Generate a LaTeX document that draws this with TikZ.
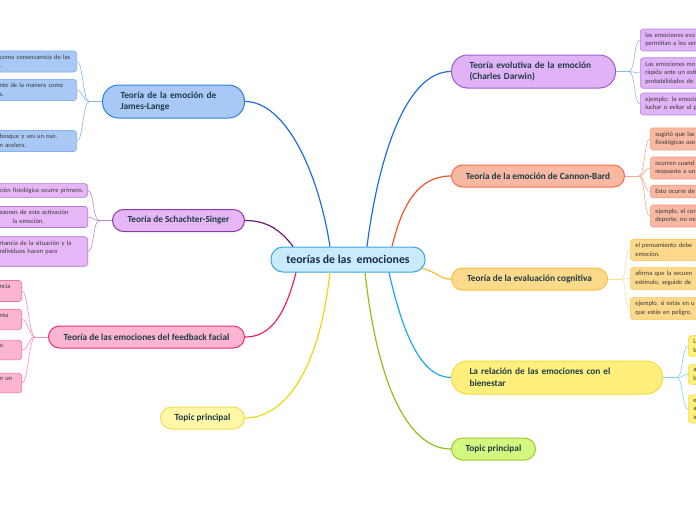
\documentclass[tikz,border=0pt]{standalone}
\usepackage{fontspec}
\setmainfont{Carlito}
\definecolor{ink}{HTML}{1F3B45}
\definecolor{hubink}{HTML}{1B2B4B}
\definecolor{leafink}{HTML}{3A3A3A}
\definecolor{hubfill}{HTML}{C9EBFC}\definecolor{hubline}{HTML}{3EA4E0}
\definecolor{jlfill}{HTML}{A8C9F6}\definecolor{jlline}{HTML}{2F7DE0}\definecolor{jltwig}{HTML}{86B3EE}
\definecolor{dwfill}{HTML}{E0B3F7}\definecolor{dwline}{HTML}{9D5CCF}\definecolor{dwleaf}{HTML}{B686E2}\definecolor{dwtwig}{HTML}{8AB8F0}
\definecolor{cbfill}{HTML}{F8B8A2}\definecolor{cbline}{HTML}{F26E43}\definecolor{cbleaf}{HTML}{F49A7C}\definecolor{cbtwig}{HTML}{F7A88E}
\definecolor{evfill}{HTML}{FDD98C}\definecolor{evline}{HTML}{FBC040}\definecolor{evleaf}{HTML}{FCCB60}\definecolor{evtwig}{HTML}{FDDFA0}
\definecolor{bwfill}{HTML}{FFF07D}\definecolor{bwline}{HTML}{F2DC3C}\definecolor{bwtwig}{HTML}{7FD0F5}
\definecolor{tgfill}{HTML}{D3F77F}\definecolor{tgline}{HTML}{9CCC2C}
\definecolor{tyfill}{HTML}{FFF6A8}\definecolor{tyline}{HTML}{F0DD55}
\definecolor{fffill}{HTML}{FBB4D2}\definecolor{ffline}{HTML}{EE2F78}\definecolor{ffleaf}{HTML}{F370A5}\definecolor{fftwig}{HTML}{F78CBB}
\definecolor{ssfill}{HTML}{E6B6F6}\definecolor{ssline}{HTML}{8C3AA8}\definecolor{ssleaf}{HTML}{B575CC}\definecolor{sstwig}{HTML}{B98AC8}
\definecolor{c-jl}{HTML}{1F6FDC}\definecolor{c-cb}{HTML}{F2542D}\definecolor{c-ev}{HTML}{FBB92E}
\definecolor{c-bw}{HTML}{1BA8EC}\definecolor{c-tg}{HTML}{8DC21F}\definecolor{c-ty}{HTML}{ECD80F}
\definecolor{c-ff}{HTML}{EE1F6B}\definecolor{c-ss}{HTML}{6A1B7A}
\begin{document}
\begin{tikzpicture}[x=1pt, y=-1pt,
  hub/.style={draw=hubline, fill=hubfill, line width=1pt, rounded corners=12pt, text=hubink,
    font=\bfseries\fontsize{11.8}{14}\selectfont, minimum width=154pt, minimum height=25pt},
  topic/.style={draw, line width=1pt, rounded corners=11pt, text=ink,
    font=\bfseries\fontsize{9.3}{11.5}\selectfont, minimum height=22pt, inner xsep=4pt},
  topictwo/.style={topic, rounded corners=16pt, minimum height=33pt, align=left, inner xsep=18pt},
  leafR/.style={draw, line width=0.6pt, rounded corners=3pt, anchor=west, align=left, text width=120pt,
    inner xsep=5pt, inner ysep=4pt, text=leafink, font=\fontsize{6.5}{8.5}\selectfont},
  leafL/.style={leafR, anchor=east, inner xsep=4pt},
  branch/.style={line width=1.2pt},
  twigR/.style={line width=0.6pt, to path={.. controls +(6,0) and +(-6,0) .. (\tikztotarget)}},
  twigL/.style={line width=0.6pt, to path={.. controls +(-6,0) and +(6,0) .. (\tikztotarget)}}]
\useasboundingbox (0,0) rectangle (696,520);
\clip (0,0) rectangle (696,520);
\fill[white] (0,0) rectangle (696,520);

% central topic
\node[hub] (hub) at (348,259.5) {teorías de las~ emociones};

% main topics, right
\node[topictwo, fill=dwfill, draw=dwline, anchor=west, text width=128pt] (dw) at (451,71.5)
  {Teoría evolutiva de la emoción\\(Charles Darwin)};
\node[topic, fill=cbfill, draw=cbline, anchor=west, minimum width=173pt] (cb) at (451,176) {Teoría de la emoción de Cannon-Bard};
\node[topic, fill=evfill, draw=evline, anchor=west, minimum width=156pt] (ev) at (451,279) {Teoría de la evaluación cognitiva};
\node[topictwo, fill=bwfill, draw=bwline, anchor=west, text width=175pt] (bw) at (451,377.5)
  {La relación de las emociones con el\\bienestar};
\node[topic, fill=tgfill, draw=tgline, anchor=west, minimum width=84pt] (tg) at (451,449) {Topic principal};

% main topics, left
\node[topictwo, fill=jlfill, draw=jlline, anchor=east, text width=106pt] (jl) at (245,101.5)
  {Teoría de la emoción de\\James-Lange};
\node[topic, fill=ssfill, draw=ssline, anchor=east, minimum width=132pt] (ss) at (245,220.5) {Teoría de Schachter-Singer};
\node[topic, fill=fffill, draw=ffline, anchor=east, minimum width=196pt] (ff) at (245,337) {Teoría de las emociones del feedback facial};
\node[topic, fill=tyfill, draw=tyline, anchor=east, minimum width=84pt] (ty) at (245,418) {Topic principal};

% branches
\draw[branch, c-jl] ([xshift=-18pt]hub.north) .. controls (318,170) and (285,101.5) .. (jl.east);
\draw[branch, c-jl] ([xshift=19pt]hub.north) .. controls (378,160) and (405,71.5) .. (dw.west);
\draw[branch, c-cb] ([xshift=44pt]hub.north) .. controls (402,205) and (418,176) .. (cb.west);
\draw[branch, c-ev] ([shift={(-3,-4)}]hub.south east) .. controls (438,272) and (438,279) .. (ev.west);
\draw[branch, c-bw] ([xshift=41pt]hub.south) .. controls (402,330) and (420,377.5) .. (bw.west);
\draw[branch, c-tg] ([xshift=17pt]hub.south) .. controls (378,390) and (410,449) .. (tg.west);
\draw[branch, c-ty] ([xshift=-18pt]hub.south) .. controls (318,380) and (280,418) .. (ty.east);
\draw[branch, c-ff] ([xshift=-52pt]hub.south) .. controls (284,320) and (268,337) .. (ff.east);
\draw[branch, c-ss] ([xshift=-55pt]hub.north) .. controls (278,226) and (262,220.5) .. (ss.east);

% subtopics, right
\foreach \n/\y/\t in {1/40/{las emociones evo\\permitían a los ser},
                      2/73/{Las emociones mo\\rápida ante un esti\\probabilidades de},
                      3/104/{ejemplo: la emoción\\luchar o evitar el p}}
  \node[leafR, fill=dwfill, draw=dwleaf] (dw\n) at (640,\y) {\t};
\foreach \n/\y/\t in {1/139/{sugirió que las s\\fisiológicas aso},
                      2/168/{ocurren cuand\\respuesta a un},
                      3/191.5/{Esto ocurre de},
                      4/216/{ejemplo, el cor\\deporte, no ne}}
  \node[leafR, fill=cbfill, draw=cbleaf] (cb\n) at (650,\y) {\t};
\foreach \n/\y/\t in {1/250/{el pensamiento debe\\emoción.},
                      2/278.5/{afirma que la secuen\\estímulo, seguido de},
                      3/308.5/{ejemplo, si estás en u\\que estás en peligro.}}
  \node[leafR, fill=evfill, draw=evleaf] (ev\n) at (630,\y) {\t};
\foreach \n/\y/\t in {1/346/{L\\b}, 2/374.5/{a\\b}, 3/409/{e\\a\\ir}}
  \node[leafR, fill=bwfill, draw=bwline] (bw\n) at (688,\y) {\t};

% subtopics, left
\foreach \n/\y/\t in {1/61.5/{como consecuencia de las\\.},
                      2/90/{nte de la manera como\\s.},
                      3/141/{bosque y ves un oso.\\n acelera.}}
  \node[leafL, fill=jlfill, draw=jltwig, text width=73pt] (jl\n) at (77,\y) {\t};
\foreach \n/\y/\t in {1/190.5/{ción fisiológica ocurre primero.},
                      2/217/{azones de esta activación\\\hspace*{13pt}la emoción.},
                      3/251.5/{rtancia de la situación y la\\ndividuos hacen para\\\mbox{}}}
  \node[leafL, fill=ssfill, draw=ssleaf, text width=84pt] (ss\n) at (88,\y) {\t};
\foreach \n/\y/\t in {1/291/{ncia\\\mbox{}}, 2/319.5/{nta\\\mbox{}}, 3/350/{o\\\mbox{}}, 4/383/{n un\\\mbox{}}}
  \node[leafL, fill=fffill, draw=ffleaf, text width=18pt] (ff\n) at (22,\y) {\t};

% twigs
\draw[twigR, dwtwig] (dw.east) -- ++(13,0) coordinate (dwj);
\foreach \n in {1,2,3} \draw[twigR, dwtwig] (dwj) to (dw\n.west);
\draw[twigR, cbtwig] (cb.east) -- ++(14,0) coordinate (cbj);
\foreach \n in {1,...,4} \draw[twigR, cbtwig] (cbj) to (cb\n.west);
\draw[twigR, evtwig] (ev.east) -- ++(13,0) coordinate (evj);
\foreach \n in {1,2,3} \draw[twigR, evtwig] (evj) to (ev\n.west);
\draw[twigR, bwtwig] (bw.east) -- ++(14,0) coordinate (bwj);
\foreach \n in {1,2,3} \draw[twigR, bwtwig] (bwj) to (bw\n.west);
\draw[twigL, jltwig] (jl.west) -- ++(-13,0) coordinate (jlj);
\foreach \n in {1,2,3} \draw[twigL, jltwig] (jlj) to (jl\n.east);
\draw[twigL, sstwig] (ss.west) -- ++(-13,0) coordinate (ssj);
\foreach \n in {1,2,3} \draw[twigL, sstwig] (ssj) to (ss\n.east);
\draw[twigL, fftwig] (ff.west) -- ++(-13,0) coordinate (ffj);
\foreach \n in {1,...,4} \draw[twigL, fftwig] (ffj) to (ff\n.east);
\end{tikzpicture}
\end{document}
